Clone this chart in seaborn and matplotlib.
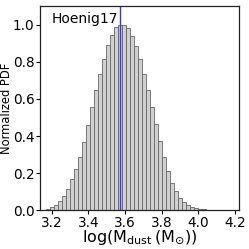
import numpy as np
import pandas as pd
import matplotlib
matplotlib.use('Agg')
import matplotlib.pyplot as plt
import seaborn as sns

# histogram (normalised to peak)
bin_start = 3.169
bin_width = 0.0218
heights = [0.006, 0.016, 0.027, 0.048, 0.075, 0.115, 0.168, 0.222, 0.29, 0.37,
           0.46, 0.558, 0.65, 0.733, 0.816, 0.888, 0.945, 0.985, 1.0, 0.997,
           0.982, 0.94, 0.886, 0.815, 0.733, 0.65, 0.557, 0.465, 0.372, 0.285,
           0.211, 0.15, 0.103, 0.069, 0.047, 0.031, 0.02, 0.013, 0.009, 0.006,
           0.004, 0.002, 0.002, 0.0015, 0.001, 0.001, 0.001, 0.0008]
best_value = 3.575
label = 'Hoenig17'

edges = bin_start + bin_width*np.arange(len(heights)+1)
df = pd.DataFrame({'logm': (edges[:-1]+edges[1:])/2, 'w': heights})

sns.set_style('ticks')
plt.rcParams['font.family'] = ['DejaVu Sans']
plt.rcParams['text.color'] = 'black'
plt.rcParams['axes.labelcolor'] = 'black'
plt.rcParams['xtick.color'] = 'black'
plt.rcParams['ytick.color'] = 'black'

fig = plt.figure(figsize=(2.49, 2.49), dpi=100)
ax = fig.add_axes([0.161, 0.155, 0.799, 0.821])

sns.histplot(data=df, x='logm', weights='w', binwidth=bin_width,
             binrange=(edges[0], edges[-1]), ax=ax,
             color='#d0d0d0', edgecolor='#666666', linewidth=0.6, alpha=1)
ax.axvline(best_value, color='#3333ff', lw=1)

ax.text(0.06, 0.97, label, transform=ax.transAxes, ha='left', va='top', fontsize=10)

ax.set_xlim(3.137, 4.222)
ax.set_ylim(0, 1.1)
ax.set_xticks([3.2, 3.4, 3.6, 3.8, 4.0, 4.2])
ax.set_yticks([0.0, 0.2, 0.4, 0.6, 0.8, 1.0])
ax.tick_params(labelsize=9.8, length=3, width=0.8, pad=1)
ax.set_xlabel(r'log(M$_{\rm dust}\,$(M$_{\odot}$))', fontsize=11.5, labelpad=-0.8)
ax.set_ylabel('Normalized PDF', fontsize=8.3, labelpad=0)
for s in ax.spines.values():
    s.set_linewidth(0.9)
    s.set_color('#222222')

fig.savefig('out.png', dpi=100)
